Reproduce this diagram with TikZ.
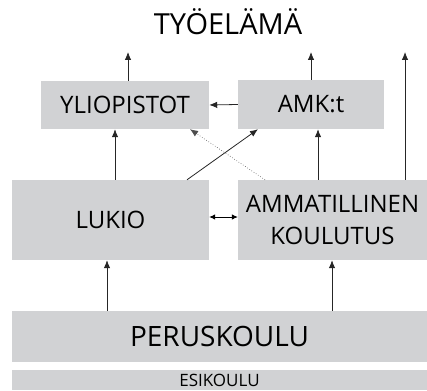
\documentclass[tikz,border=0pt]{standalone}
\usepackage{fontspec}
\setmainfont{Open Sans}
\usetikzlibrary{arrows.meta,positioning}

\definecolor{boxgray}{RGB}{209,210,212}

\begin{document}
\begin{tikzpicture}
    [x=1pt, y=-1pt,
      level/.style={fill=boxgray, inner sep=0pt, align=center, font=\fontsize{24}{32}\selectfont},
      darc/.style={-{Latex[length=8pt,width=6.5pt]}, line width=0.8pt, draw=black!85},
      barc/.style={{Latex[length=6pt,width=5.5pt]}-{Latex[length=6pt,width=5.5pt]}, line width=0.8pt},
      marc/.style={-{Latex[length=8pt,width=6.5pt]}, dotted, line width=0.6pt, draw=black!70}]

    \useasboundingbox (0,0) rectangle (427,390);

    \node (tyo) at (228,22) [font=\fontsize{29}{34}\selectfont] {TYÖELÄMÄ};

    \node (yliop) at (125,105) [level, minimum width=168pt, minimum height=48pt] {YLIOPISTOT};
    \node (amk) at (311,104.5) [level, minimum width=146pt, minimum height=49pt] {AMK:t};
    \node (lukio) at (110.5,220) [level, minimum width=197pt, minimum height=80pt] {LUKIO};
    \node (ammat) at (332.5,220) [level, minimum width=189pt, minimum height=80pt] {AMMATILLINEN\\KOULUTUS};
    \node (perus) at (219.5,336.5) [level, minimum width=415pt, minimum height=51pt, font=\fontsize{28}{32}\selectfont] {PERUSKOULU};
    \node (esik) at (219.5,380) [level, minimum width=415pt, minimum height=20pt, font=\fontsize{17}{19}\selectfont] {ESIKOULU};

    % ylos tyoelamaan
    \coordinate (top) at (0,52);
    \draw[darc] ([xshift=3]yliop.north) -- ([xshift=3]yliop.north |- top);
    \draw[darc] (amk.north) -- (amk.north |- top);
    \draw[darc] ([xshift=72.5]ammat.north) -- ([xshift=72.5]ammat.north |- top);

    \draw[darc] (amk.west) -- (yliop.east);
    \draw[darc] ([xshift=4.5]lukio.north) -- ([xshift=4.5]lukio.north |- yliop.south);
    \draw[darc] ([xshift=76.5]lukio.north) -- ([xshift=-53]amk.south);
    \draw[marc] ([xshift=-67.5]ammat.north) -- ([xshift=65]yliop.south);
    \draw[darc] ([xshift=-14.5]ammat.north) -- ([xshift=-14.5]ammat.north |- amk.south);
    \draw[barc] ([yshift=3]lukio.east) -- ([yshift=3]ammat.west);

    \draw[darc] ([xshift=-3.5]lukio.south |- perus.north) -- ([xshift=-3.5]lukio.south);
    \draw[darc] ([xshift=-0.5]ammat.south |- perus.north) -- ([xshift=-0.5]ammat.south);
\end{tikzpicture}
\end{document}
